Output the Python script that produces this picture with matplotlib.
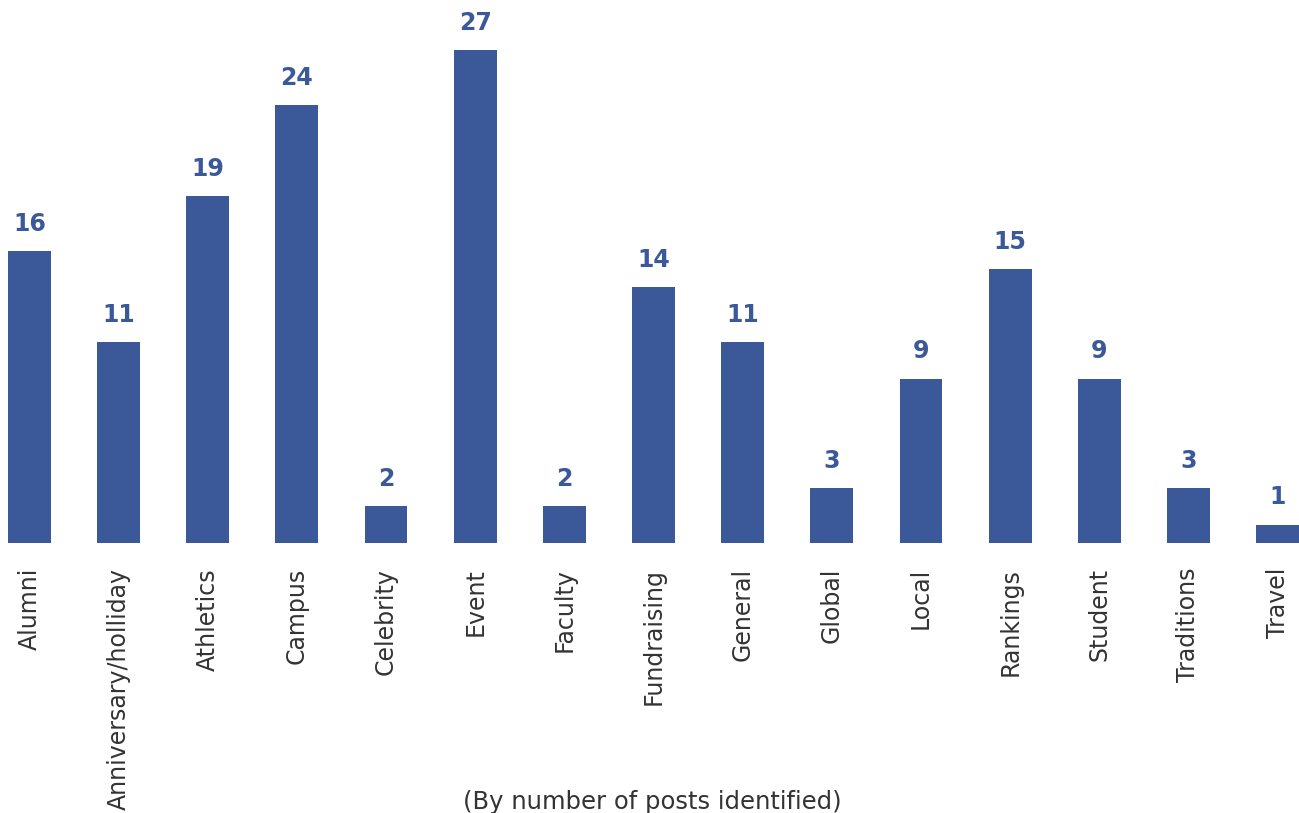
import matplotlib
matplotlib.use("Agg")
import matplotlib.pyplot as plt

categories = ["Alumni", "Anniversary/holliday", "Athletics", "Campus", "Celebrity",
              "Event", "Faculty", "Fundraising", "General", "Global", "Local",
              "Rankings", "Student", "Traditions", "Travel"]
posts = [16, 11, 19, 24, 2, 27, 2, 14, 11, 3, 9, 15, 9, 3, 1]

bar_color = "#3B5998"
text_color = "#333333"

plt.rcParams["font.family"] = ["DejaVu Sans"]

fig = plt.figure(figsize=(12.99, 8.13), dpi=100)
ax = fig.add_axes([0, (813 - 543) / 813, 1, 543 / 813])

x = list(range(len(categories)))
ax.bar(x, posts, width=0.48, color=bar_color)

for xi, v in zip(x, posts):
    ax.annotate(str(v), (xi, v), xytext=(0, 11), textcoords="offset points",
                ha="center", va="bottom", fontsize=17, fontweight="bold",
                color=bar_color)

ax.set_xlim(-0.33, 14.24)
ax.set_ylim(0, 29.74)
ax.set_xticks(x)
ax.set_xticklabels(categories, rotation=90, fontsize=17, color=text_color)
ax.tick_params(axis="x", length=0, pad=18)
ax.set_yticks([])
for s in ax.spines.values():
    s.set_visible(False)

fig.text(652 / 1299, 1 - 802 / 813, "(By number of posts identified)",
         ha="center", va="center", fontsize=17.5, color=text_color)

fig.savefig("out.png", dpi=100)
